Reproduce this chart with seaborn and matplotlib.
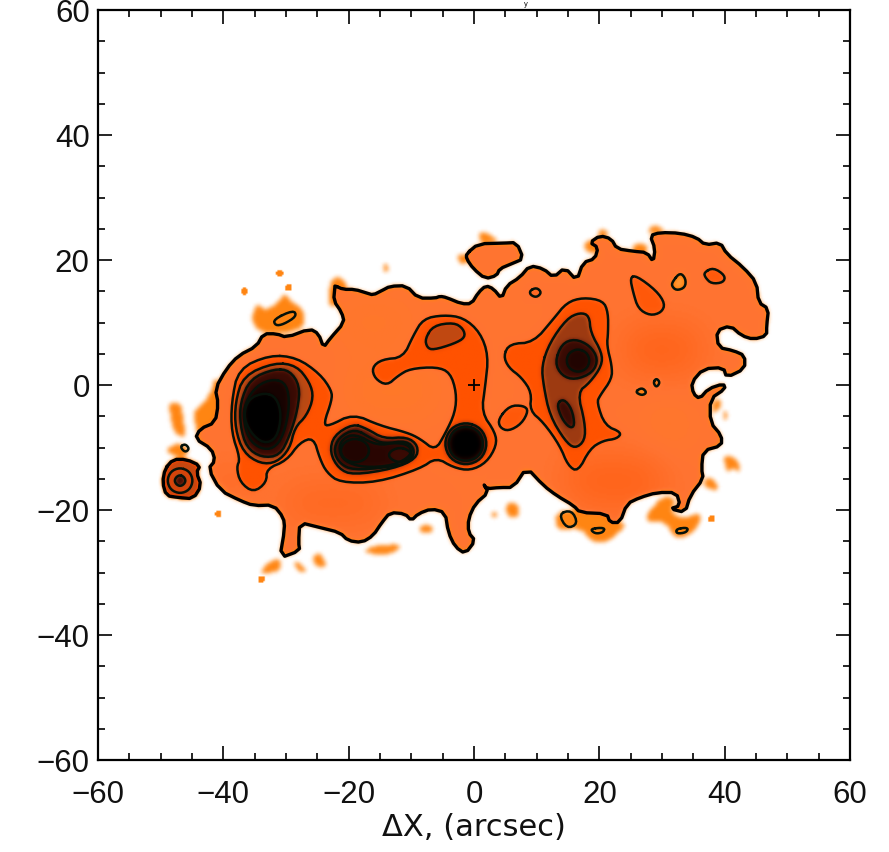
import numpy as np
import matplotlib
matplotlib.use("Agg")
import matplotlib.pyplot as plt
from matplotlib.path import Path
from matplotlib.ticker import MultipleLocator
import seaborn as sns

# --- contours, (dX, dY) in arcsec ---
outline_main = [(-22.2,15.9),(-20.9,15.3),(-19.0,15.3),(-17.1,14.7),(-16.1,14.4),(-14.7,15.1),(-13.4,15.8),(-10.8,15.9),
    (-8.9,13.9),(-6.2,13.9),(-5.4,14.2),(-4.4,14.0),(-2.0,13.0),(-0.4,13.0),(0.7,14.8),(1.9,15.9),(3.1,15.4),(4.4,13.8),
    (5.2,15.9),(7.3,17.2),(8.9,19.1),(11.1,18.6),(12.7,17.2),(14.5,18.8),(16.4,16.7),(17.4,19.6),(19.3,20.2),(19.8,22.0),
    (18.5,22.8),(20.1,23.9),(21.9,23.4),(22.8,21.8),(25.4,21.4),(27.6,21.2),(28.6,19.7),(28.9,21.8),(28.1,23.9),(29.7,24.4),
    (32.9,24.3),(35.5,23.6),(36.9,22.4),(39.3,22.8),(40.3,21.0),(43.0,18.8),(45.1,16.4),(45.4,13.2),(47.0,12.2),(46.7,9.5),
    (46.7,7.9),(44.6,7.3),(42.7,7.9),(40.9,9.5),(38.7,8.7),(39.0,6.0),(41.4,5.5),(43.2,4.7),(43.2,2.6),(40.3,1.2),(39.8,2.8),
    (36.6,2.6),(34.7,0.4),(35.0,-1.4),(36.0,-2.2),(37.4,-0.6),(39.8,0.2),(40.1,-0.6),(37.7,-2.2),(37.7,-6.0),(39.5,-8.1),
    (39.5,-9.7),(36.6,-10.5),(36.3,-13.4),(36.6,-15.0),(34.5,-17.7),(33.7,-20.4),(31.3,-19.8),(32.9,-19.3),(32.3,-17.2),
    (29.2,-17.2),(26.5,-18.0),(24.4,-19.0),(23.3,-22.0),(21.7,-22.0),(21.2,-20.6),(16.9,-20.4),(15.9,-19.3),(13.2,-17.7),
    (11.1,-16.1),(8.4,-13.2),(6.3,-16.4),(4.1,-16.4),(2.0,-16.6),(1.5,-15.8),(2.3,-17.2),(0.2,-19.0),(-0.9,-21.4),(-0.9,-23.6),
    (0.2,-24.9),(-1.4,-27.0),(-3.0,-25.9),(-4.1,-23.6),(-4.6,-20.4),(-6.8,-19.8),(-8.9,-20.6),(-10.0,-21.7),(-11.0,-20.6),
    (-13.4,-20.4),(-14.7,-22.0),(-16.1,-24.1),(-17.9,-25.2),(-20.1,-24.9),(-21.4,-23.6),(-24.6,-22.8),(-27.8,-22.0),
    (-28.0,-25.2),(-27.8,-26.5),(-31.0,-27.7),(-30.2,-23.0),(-30.4,-21.2),(-32.0,-19.2),(-35.2,-19.3),(-37.3,-18.5),
    (-40.5,-16.9),(-42.4,-13.4),(-41.3,-12.1),(-41.9,-10.2),(-44.5,-8.6),(-43.7,-7.0),(-41.3,-6.0),(-40.8,-3.0),(-41.3,-0.6),
    (-39.5,2.6),(-37.6,4.7),(-34.7,6.2),(-33.6,8.2),(-31.5,8.2),(-29.9,7.6),(-26.2,9.0),(-24.8,8.2),(-24.0,6.0),(-23.0,7.4),
    (-20.7,10.0),(-21.1,11.6),(-22.4,13.5),(-22.2,15.6)]
outline_island = [(-1.2,21.0),(0.7,22.6),(4.7,22.7),(6.8,22.8),(7.9,20.2),(6.0,19.4),(4.1,18.6),(3.6,17.5),(1.8,17.0),(-0.1,18.6),(-1.2,20.2)]
outline_knot = [(-49.3,-13.4),(-48.0,-11.9),(-45.9,-11.9),(-43.7,-12.9),(-44.3,-14.0),(-43.5,-16.1),(-44.8,-18.2),(-47.2,-18.0),(-49.1,-17.7),(-49.7,-15.6)]

level2_main = [(-32.6,4.8),(-28.3,4.4),(-24.6,1.8),(-22.7,-0.9),(-22.7,-2.5),(-24.0,-6.2),(-23.2,-6.6),(-19.3,-4.6),(-15.0,-6.5),
    (-10.7,-7.6),(-8.6,-8.6),(-6.2,-10.5),(-4.6,-7.8),(-3.0,-4.4),(-2.8,-1.2),(-3.8,2.0),(-6.0,2.9),(-10.2,2.6),(-12.1,1.5),
    (-13.9,-0.1),(-15.8,1.0),(-16.3,2.8),(-14.7,4.1),(-11.3,4.4),(-9.7,7.9),(-8.1,10.6),(-4.9,11.2),(-1.7,10.8),(1.0,8.4),
    (2.3,4.7),(1.8,-0.1),(1.2,-4.4),(3.4,-7.6),(3.6,-9.7),(2.0,-12.4),(-0.6,-13.7),(-3.3,-13.2),(-6.0,-11.6),(-8.6,-13.4),
    (-15.5,-15.6),(-21.4,-15.6),(-23.5,-14.0),(-24.6,-11.8),(-25.6,-8.4),(-27.8,-9.2),(-29.9,-12.1),(-33.1,-13.4),(-33.1,-15.6),
    (-35.2,-17.2),(-37.3,-15.6),(-37.9,-13.2),(-37.3,-11.8),(-38.7,-7.6),(-38.7,-2.8),(-37.6,2.6)]
level2_east = [(4.7,4.7),(5.7,6.6),(9.5,6.8),(12.7,10.6),(14.8,13.2),(17.4,14.0),(20.6,13.5),(21.4,11.6),(21.4,8.4),(21.2,6.3),
    (22.0,3.1),(22.0,1.0),(20.1,-1.7),(19.6,-2.8),(20.9,-6.5),(23.6,-7.6),(22.8,-8.6),(20.6,-8.9),(18.5,-10.2),(16.6,-13.9),
    (15.0,-12.9),(13.7,-9.7),(11.1,-6.0),(8.9,-4.1),(9.2,-1.2),(7.6,1.2),(5.5,2.8)]
level2_oval = [(3.9,-5.4),(5.7,-3.3),(7.9,-3.3),(8.7,-4.1),(7.6,-6.2),(5.5,-7.4),(4.1,-6.8)]
level2_drop = [(24.9,17.2),(25.9,17.5),(29.1,15.1),(30.5,13.0),(29.9,11.6),(28.1,11.1),(26.2,12.2),(25.4,14.8)]
level2_ne = [(36.7,18.0),(38.2,18.8),(40.1,17.5),(39.8,16.4),(37.9,16.2),(36.9,17.2)]
level2_small = [(8.9,15.1),(10.0,15.6),(10.8,14.8),(10.0,14.0),(9.0,14.4)]
knot_ring = [(-46.9,-13.2),(-45.4,-13.8),(-44.8,-15.3),(-45.4,-16.8),(-46.9,-17.4),(-48.4,-16.8),(-49.0,-15.3),(-48.4,-13.8)]
knot_core = [(-46.9,-14.4),(-46.3,-14.7),(-46.0,-15.3),(-46.3,-15.9),(-46.9,-16.2),(-47.5,-15.9),(-47.8,-15.3),(-47.5,-14.7)]

west_c2 = [(-31.8,3.6),(-28.3,3.1),(-26.2,0.4),(-25.6,-2.0),(-26.7,-4.9),(-28.6,-6.8),(-29.4,-10.2),(-31.5,-12.4),(-34.1,-12.6),(-36.8,-10.8),(-38.1,-7.0),(-38.1,-2.8),(-36.8,1.5)]
west_c3 = [(-31.8,2.6),(-29.4,2.3),(-27.8,-0.1),(-28.1,-3.8),(-29.4,-8.1),(-31.0,-11.3),(-33.9,-11.6),(-36.3,-10.0),(-37.3,-6.5),(-37.3,-2.8),(-35.7,1.0)]
west_c4 = [(-32.0,1.0),(-29.9,0.2),(-29.4,-3.3),(-30.4,-8.1),(-32.0,-10.2),(-34.1,-10.2),(-36.0,-8.6),(-36.8,-5.4),(-36.5,-2.8),(-34.7,-0.1)]
west_c5 = [(-33.4,-1.2),(-31.5,-2.0),(-30.7,-4.9),(-31.5,-8.6),(-33.6,-9.4),(-35.7,-7.6),(-36.8,-4.9),(-36.0,-2.2)]

mid_c2 = [(-19.3,-6.2),(-17.1,-7.0),(-14.4,-8.6),(-10.7,-8.3),(-8.9,-9.7),(-9.2,-11.8),(-12.9,-13.4),(-19.3,-14.4),(-21.6,-13.4),(-23.0,-10.8),(-22.4,-8.1)]
mid_c3 = [(-19.0,-7.0),(-16.3,-8.6),(-14.4,-9.4),(-10.7,-8.9),(-9.4,-10.5),(-10.2,-12.4),(-14.0,-13.2),(-19.3,-13.6),(-21.4,-12.6),(-22.4,-10.6),(-21.6,-8.4)]
mid_c4 = [(-19.0,-7.8),(-15.5,-9.7),(-12.3,-9.2),(-10.2,-9.7),(-10.0,-11.3),(-12.9,-12.9),(-17.7,-13.2),(-20.7,-12.2),(-21.6,-10.3),(-21.0,-8.6)]
mid_left = [(-19.0,-8.5),(-17.3,-9.1),(-16.6,-10.5),(-17.3,-11.9),(-19.0,-12.5),(-20.7,-11.9),(-21.4,-10.5),(-20.7,-9.1)]
mid_right = [(-11.8,-10.0),(-10.5,-10.4),(-9.9,-11.2),(-10.5,-12.0),(-11.8,-12.4),(-13.1,-12.0),(-13.7,-11.2),(-13.1,-10.4)]

core_c2 = [(-1.3,-5.9),(1.2,-6.9),(2.2,-9.4),(1.2,-11.9),(-1.3,-12.9),(-3.8,-11.9),(-4.8,-9.4),(-3.8,-6.9)]
core_c3 = [(-1.3,-6.5),(0.8,-7.3),(1.6,-9.4),(0.8,-11.5),(-1.3,-12.3),(-3.4,-11.5),(-4.2,-9.4),(-3.4,-7.3)]
core_c4 = [(-1.3,-6.9),(0.5,-7.6),(1.2,-9.4),(0.5,-11.2),(-1.3,-11.9),(-3.1,-11.2),(-3.8,-9.4),(-3.1,-7.6)]
arc_peak = [(-7.8,7.4),(-6.5,9.5),(-3.2,10.0),(-1.7,9.0),(-1.4,7.6),(-3.2,6.6),(-6.5,5.6),(-7.5,6.0)]

east_c2 = [(10.8,3.1),(12.1,6.8),(14.8,10.6),(16.9,11.6),(18.4,11.1),(18.6,8.4),(20.4,5.2),(20.4,3.1),(18.5,0.4),(16.5,-1.2),(17.7,-6.0),(17.7,-8.9),(16.1,-10.2),(14.5,-8.9),(12.1,-4.9),(11.1,-0.1)]
east_c3 = [(12.9,3.6),(14.0,6.6),(16.1,7.4),(18.5,6.3),(19.8,4.2),(19.0,2.0),(16.1,0.8),(14.0,1.5)]
east_c4 = [(16.6,5.8),(18.0,5.2),(18.5,3.9),(18.0,2.6),(16.6,2.0),(15.2,2.6),(14.7,3.9),(15.2,5.2)]
east_south = [(13.2,-3.0),(14.3,-2.2),(15.6,-3.8),(16.1,-6.5),(15.3,-6.9),(14.0,-5.4)]

# contour-only holes, slightly paler than the disc around them
hole_a = [(31.8,16.7),(32.9,18.0),(33.8,17.0),(33.7,15.6),(32.3,15.1),(31.5,15.9)]
hole_b = [(25.7,-1.1),(26.8,-0.4),(27.6,-1.2),(26.8,-1.7)]
hole_c = [(28.6,0.4),(29.1,1.1),(29.7,0.4),(29.1,-0.4)]

# faint specks outside the lowest contour, no line around them
specks = [
    [(-35.5,10.6),(-34.7,13.2),(-33.4,11.9),(-31.2,13.2),(-30.2,14.8),(-29.1,13.2),(-27.2,12.2),(-27.0,9.2),(-30.4,8.2),(-33.6,8.4),(-34.7,9.0)],
    [(-48.8,-3.0),(-46.7,-3.0),(-46.4,-5.4),(-45.9,-8.6),(-48.0,-7.6),(-48.5,-4.3)],
    [(-44.8,-4.4),(-42.1,-1.7),(-41.3,1.5),(-40.5,-0.1),(-41.1,-6.5),(-44.3,-8.1),(-44.6,-5.0)],
    [(-49.3,-10.2),(-46.9,-9.2),(-45.3,-10.5),(-46.5,-11.8),(-48.5,-11.0)],
    [(-34.1,-30.0),(-32.6,-28.1),(-30.8,-27.8),(-31.0,-29.7),(-33.1,-30.2)],
    [(-28.8,-28.4),(-27.8,-28.4),(-26.7,-29.7),(-27.8,-30.1)],
    [(-25.6,-27.3),(-24.6,-26.8),(-23.5,-28.6),(-24.3,-29.4),(-25.6,-28.6)],
    [(-17.9,-26.8),(-16.1,-25.7),(-11.8,-25.4),(-12.1,-26.5),(-14.2,-27.2)],
    [(-8.6,-22.5),(-6.5,-22.5),(-6.5,-23.6),(-8.6,-23.6)],
    [(4.9,-19.0),(7.1,-19.0),(7.1,-21.2),(5.5,-21.2)],
    [(2.8,-20.4),(3.6,-20.4),(3.6,-21.2),(2.8,-21.2)],
    [(12.9,-20.4),(16.6,-19.8),(20.1,-20.4),(23.3,-22.0),(24.4,-22.5),(21.2,-25.2),(19.0,-25.2),(16.9,-22.8),(13.2,-23.4)],
    [(27.3,-20.9),(30.2,-17.7),(32.3,-18.2),(31.3,-20.4),(33.4,-21.4),(36.1,-20.4),(36.1,-22.2),(33.9,-24.4),(31.8,-24.4),(30.7,-22.0),(28.1,-22.0)],
    [(39.8,-11.3),(41.1,-11.3),(42.4,-12.4),(42.4,-14.1),(41.4,-13.2),(40.3,-14.1)],
    [(37.4,-14.5),(38.7,-15.6),(39.0,-16.9),(37.1,-16.6),(36.6,-15.6)],
    [(38.2,-2.5),(39.5,-2.2),(39.5,-3.3),(38.2,-4.9)],
    [(39.8,-4.1),(40.3,-4.1),(40.3,-5.7),(39.8,-5.7)],
    [(-2.8,20.7),(-1.2,21.0),(-1.2,19.4),(-2.2,19.4)],
    [(0.7,24.4),(2.0,24.4),(4.1,23.0),(1.0,22.6)],
    [(19.9,25.0),(22.0,24.4),(20.0,23.5)],
    [(27.5,24.2),(28.6,25.8),(30.7,24.7)],
    [(17.4,22.8),(19.6,23.4),(19.8,21.2),(18.0,21.2)],
    [(25.4,22.6),(27.6,22.6),(27.6,21.2),(25.4,21.4)],
    [(-23.1,16.7),(-21.4,17.5),(-20.1,15.7),(-21.0,14.5),(-23.0,11.8)],
    [(-14.5,19.4),(-13.9,19.4),(-13.6,18.2),(-14.5,18.2)],
]
speck_dots_x = [-31.0, -29.6, -36.6, -40.8, -33.9, 37.9]
speck_dots_y = [17.8, 15.6, 15.0, -20.6, -31.1, -21.4]

# small closed contours sitting in the specks
speck_contours = [
    [(-32.0,10.5),(-28.8,12.0),(-28.3,11.0),(-30.4,9.7),(-31.7,9.5)],
    [(-46.9,-9.9),(-46.1,-9.4),(-45.4,-10.2),(-46.1,-10.8)],
    [(13.5,-20.6),(15.6,-20.0),(16.6,-22.2),(14.8,-23.0)],
    [(18.5,-23.0),(20.9,-22.8),(20.6,-23.6),(19.3,-23.8)],
    [(32.3,-23.0),(34.2,-22.8),(33.9,-23.6),(32.3,-23.8)],
]

# broad, slightly deeper washes across the disc
wash_deep = [
    [(14,-12),(30,-12),(30,-19),(16,-19)],
    [(-30,-17),(-15,-17),(-15,-21),(-30,-21)],
    [(24,9),(36,9),(36,2),(24,2)],
    [(-42,-14),(-36,-14),(-36,-17),(-42,-17)],
]
wash_pale = [
    [(-20,3),(-6,3),(-6,-5),(-20,-5)],
    [(-22,13),(-10,13),(-10,7),(-22,7)],
    [(28,-3),(34,-3),(34,-10),(28,-10)],
]

# (contour, level) in painting order
level_stack = [
    (level2_main, 2.0), (level2_east, 2.0), (level2_oval, 1.9), (level2_drop, 1.9), (level2_ne, 1.9), (level2_small, 1.7),
    (hole_a, 0.85), (hole_b, 0.85), (hole_c, 0.85),
    (outline_knot, 2.9), (knot_ring, 2.5), (knot_core, 4.5),
    (west_c2, 3.0), (west_c3, 4.6), (west_c4, 5.4), (west_c5, 6.0),
    (mid_c2, 4.0), (mid_c3, 4.6), (mid_c4, 5.0), (mid_left, 5.2), (mid_right, 4.6),
    (core_c2, 4.6), (core_c3, 5.5), (core_c4, 6.0),
    (arc_peak, 2.9),
    (east_c2, 3.3), (east_c3, 4.6), (east_c4, 5.2), (east_south, 4.6),
]
# colours at levels 0, 0.5, 1, ... 6
level_colours = ["#ffffff", "#ffc288", "#ff8410", "#ff7432", "#ff5200", "#dd4208", "#b94a14", "#8a3010",
                 "#5c1608", "#3e0c04", "#2a0602", "#140301", "#000000"]


def chaikin(points, rounds):
    pts = np.array(points, dtype=float)
    for _ in range(rounds):
        nxt = np.roll(pts, -1, axis=0)
        pts = np.column_stack([0.75 * pts + 0.25 * nxt, 0.25 * pts + 0.75 * nxt]).reshape(-1, 2)
    return pts


def blur(field, sigma, step):
    half = int(4 * sigma / step)
    kern = np.exp(-0.5 * (np.arange(-half, half + 1) * step / sigma) ** 2)
    kern /= kern.sum()
    field = np.apply_along_axis(lambda r: np.convolve(r, kern, mode="same"), 0, field)
    return np.apply_along_axis(lambda r: np.convolve(r, kern, mode="same"), 1, field)


step = 0.25
grid_x = np.arange(-60, 60 + step, step)
grid_y = np.arange(-60, 60 + step, step)
gx, gy = np.meshgrid(grid_x, grid_y)
cells = np.column_stack([gx.ravel(), gy.ravel()])


def mask_of(points):
    return Path(points).contains_points(cells).reshape(gx.shape)


sns.set_theme(style="ticks")
plt.rcParams["font.family"] = ["Liberation Sans", "DejaVu Sans"]

disc = np.zeros(gx.shape)
for poly in specks:
    disc[mask_of(chaikin(poly, 1))] = 1.0
for poly in [outline_main, outline_island]:
    disc[mask_of(chaikin(poly, 1))] = 1.5

wash = np.zeros(gx.shape)
for poly in wash_deep:
    wash[mask_of(poly)] = 0.3
for poly in wash_pale:
    wash[mask_of(poly)] = -0.15
wash = blur(wash, 3.0, step)

field = disc + wash * (disc > 1.1)
for poly, level in level_stack:
    field[mask_of(chaikin(poly, 2))] = level
field = blur(field, 0.35, step)
for x, y in zip(speck_dots_x, speck_dots_y):
    near = np.hypot(gx - x, gy - y) < 0.55
    field[near] = 1.0

cmap = sns.blend_palette(level_colours, n_colors=256, as_cmap=True)

fig = plt.figure(figsize=(8.89, 8.53), dpi=100)
ax = fig.add_axes([98 / 889, (853 - 761) / 853, (850 - 98) / 889, (761 - 11) / 853])
ax.imshow(field, origin="lower", extent=(-60.125, 60.125, -60.125, 60.125), cmap=cmap, vmin=0, vmax=6,
          interpolation="bilinear", aspect="auto")

inner_lines = [knot_ring, knot_core, level2_main, level2_east, level2_oval, level2_drop, level2_ne, level2_small,
               west_c2, west_c3, west_c4, west_c5, mid_c2, mid_c3, mid_c4, mid_left, mid_right, core_c2, core_c3, arc_peak,
               east_c2, east_c3, east_c4, east_south, hole_a, hole_b, hole_c] + speck_contours


def draw_line(points, rounds, lw, colour="black"):
    pts = chaikin(points, rounds)
    pts = np.vstack([pts, pts[:1]])
    sns.lineplot(x=pts[:, 0], y=pts[:, 1], sort=False, estimator=None, color=colour, lw=lw, ax=ax, legend=False)


for poly in [outline_main, outline_island, outline_knot]:
    draw_line(poly, 1, 2.4)
for poly in inner_lines:
    draw_line(poly, 2, 1.8, "#06120a")

sns.scatterplot(x=[0], y=[0], marker="+", s=70, color="black", linewidth=1.3, ax=ax, legend=False)

ax.set_xlim(-60, 60)
ax.set_ylim(-60, 60)
ax.xaxis.set_major_locator(MultipleLocator(20))
ax.yaxis.set_major_locator(MultipleLocator(20))
ax.xaxis.set_minor_locator(MultipleLocator(5))
ax.yaxis.set_minor_locator(MultipleLocator(5))
ax.tick_params(which="both", direction="in", top=True, right=True, width=1.2, color="black")
ax.tick_params(which="major", length=10, labelsize=22.5, labelcolor="#111111")
ax.tick_params(axis="x", which="major", pad=14)
ax.tick_params(axis="y", which="major", pad=6)
ax.tick_params(which="minor", length=5)
ax.grid(False)
for spine in ax.spines.values():
    spine.set_linewidth(1.6)
    spine.set_color("black")
    spine.set_visible(True)
ax.set_xlabel("ΔX, (arcsec)", fontsize=22, family="DejaVu Sans", color="#111111", labelpad=2)

# remnant of a title above the frame, small enough to stay on the page
fig.text(526 / 889, 1 - 0.5 / 853, "y", fontsize=5.5, ha="center", va="top", color="#111111")

fig.savefig("out.png", dpi=100)
